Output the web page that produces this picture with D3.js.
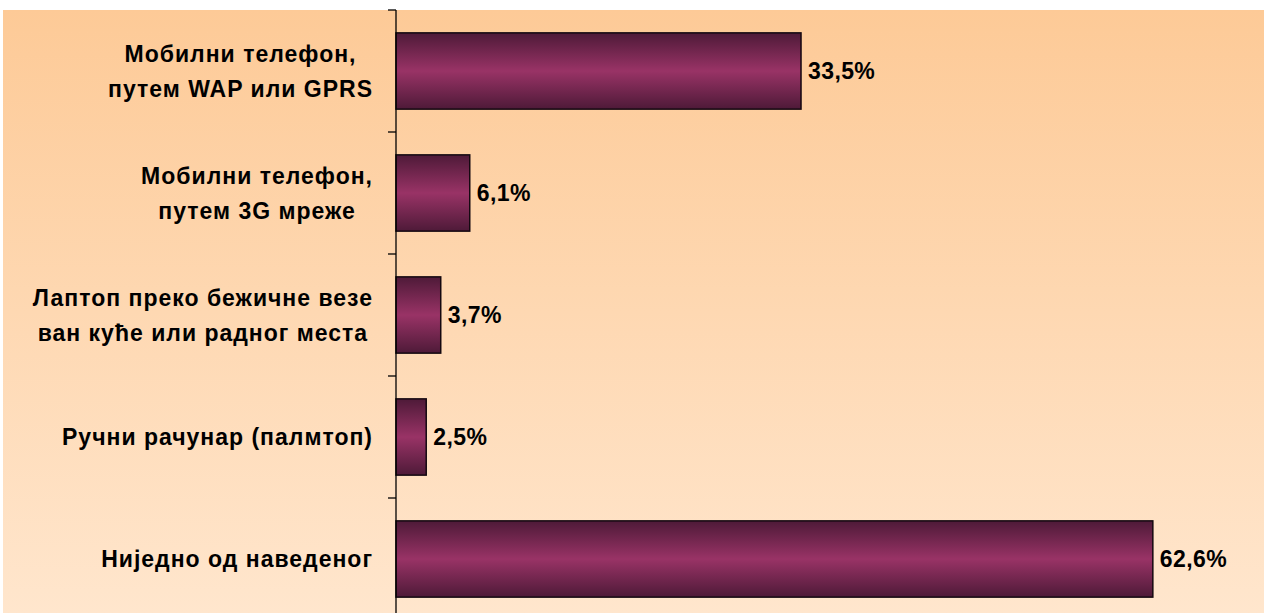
<!DOCTYPE html>
<html>
<head>
<meta charset="utf-8">
<script src="https://cdnjs.cloudflare.com/ajax/libs/d3/7.8.5/d3.min.js"></script>
<style>
  body { margin: 0; background: #fff; }
  svg { display: block; font-family: "Liberation Sans", Arial, sans-serif; }
</style>
</head>
<body>
<div id="chart"></div>
<script>
// data
var categories = [
    ["Мобилни телефон,", "путем WAP или GPRS"],
    ["Мобилни телефон,", "путем 3G мреже"],
    ["Лаптоп преко бежичне везе", "ван куће или радног места"],
    ["Ручни рачунар (палмтоп)"],
    ["Ниједно од наведеног"]
];
var values = [33.5, 6.1, 3.7, 2.5, 62.6];
var valueLabels = ["33,5%", "6,1%", "3,7%", "2,5%", "62,6%"];

var width = 1264, height = 613;
var plot = { left: 3, top: 10, axisX: 396 };

var svg = d3.select("#chart")
    .append("svg")
    .attr("width", width)
    .attr("height", height);

var defs = svg.append("defs");

var bg = defs.append("linearGradient")
    .attr("id", "bg")
    .attr("x1", 0).attr("y1", 0).attr("x2", 0).attr("y2", 1);
bg.append("stop").attr("offset", "0%").attr("stop-color", "#fdca97");
bg.append("stop").attr("offset", "100%").attr("stop-color", "#ffe6cd");

var barGrad = defs.append("linearGradient")
    .attr("id", "bar")
    .attr("x1", 0).attr("y1", 0).attr("x2", 0).attr("y2", 1);
barGrad.append("stop").attr("offset", "0%").attr("stop-color", "#4e1a38");
barGrad.append("stop").attr("offset", "50%").attr("stop-color", "#993366");
barGrad.append("stop").attr("offset", "100%").attr("stop-color", "#4e1a38");

svg.append("rect")
    .attr("x", plot.left)
    .attr("y", plot.top)
    .attr("width", width - plot.left)
    .attr("height", height - plot.top)
    .attr("fill", "url(#bg)");

var x = d3.scaleLinear()
    .domain([0, 70])
    .range([plot.axisX, plot.axisX + 70 * 12.09]);

var y = d3.scaleBand()
    .domain(d3.range(values.length))
    .range([plot.top, plot.top + 5 * 122])
    .paddingInner(0.375)
    .paddingOuter(0.1875);

// bars
svg.selectAll(".bar")
    .data(values)
    .enter()
    .append("rect")
    .attr("class", "bar")
    .attr("x", x(0))
    .attr("y", function(d, i) { return y(i); })
    .attr("width", function(d) { return x(d) - x(0); })
    .attr("height", y.bandwidth())
    .attr("fill", "url(#bar)")
    .attr("stroke", "#140810")
    .attr("stroke-width", 1.5);

// category axis: line + ticks between categories
var tickYs = d3.range(values.length + 1).map(function(i) { return plot.top + i * y.step(); });
svg.append("line")
    .attr("x1", plot.axisX).attr("x2", plot.axisX)
    .attr("y1", plot.top).attr("y2", height)
    .attr("stroke", "#000")
    .attr("stroke-width", 1.3);
svg.selectAll(".tick")
    .data(tickYs)
    .enter()
    .append("line")
    .attr("x1", plot.axisX - 8).attr("x2", plot.axisX)
    .attr("y1", function(d) { return d; })
    .attr("y2", function(d) { return d; })
    .attr("stroke", "#000")
    .attr("stroke-width", 1.3);

// value labels
svg.selectAll(".val")
    .data(values)
    .enter()
    .append("text")
    .attr("class", "val")
    .attr("x", function(d) { return x(d) + 7; })
    .attr("y", function(d, i) { return y(i) + y.bandwidth() / 2; })
    .attr("dy", "0.35em")
    .style("font-size", "23px")
    .style("font-weight", "bold")
    .style("letter-spacing", "0.4px")
    .text(function(d, i) { return valueLabels[i]; });

// category labels, lines centred within a block right-aligned to the axis
var labelRight = 373, lineGap = 35;
categories.forEach(function(lines, i) {
    var g = svg.append("g");
    var cy = y(i) + y.bandwidth() / 2;
    var texts = lines.map(function(line, j) {
        return g.append("text")
            .attr("y", cy + (j - (lines.length - 1) / 2) * lineGap)
            .attr("dy", "0.35em")
            .attr("text-anchor", "middle")
            .style("font-size", "23px")
            .style("font-weight", "bold")
            .style("letter-spacing", "1px")
            .text(line);
    });
    var w = d3.max(texts, function(t) { return t.node().getComputedTextLength(); });
    texts.forEach(function(t) { t.attr("x", labelRight - w / 2); });
});
</script>
</body>
</html>
